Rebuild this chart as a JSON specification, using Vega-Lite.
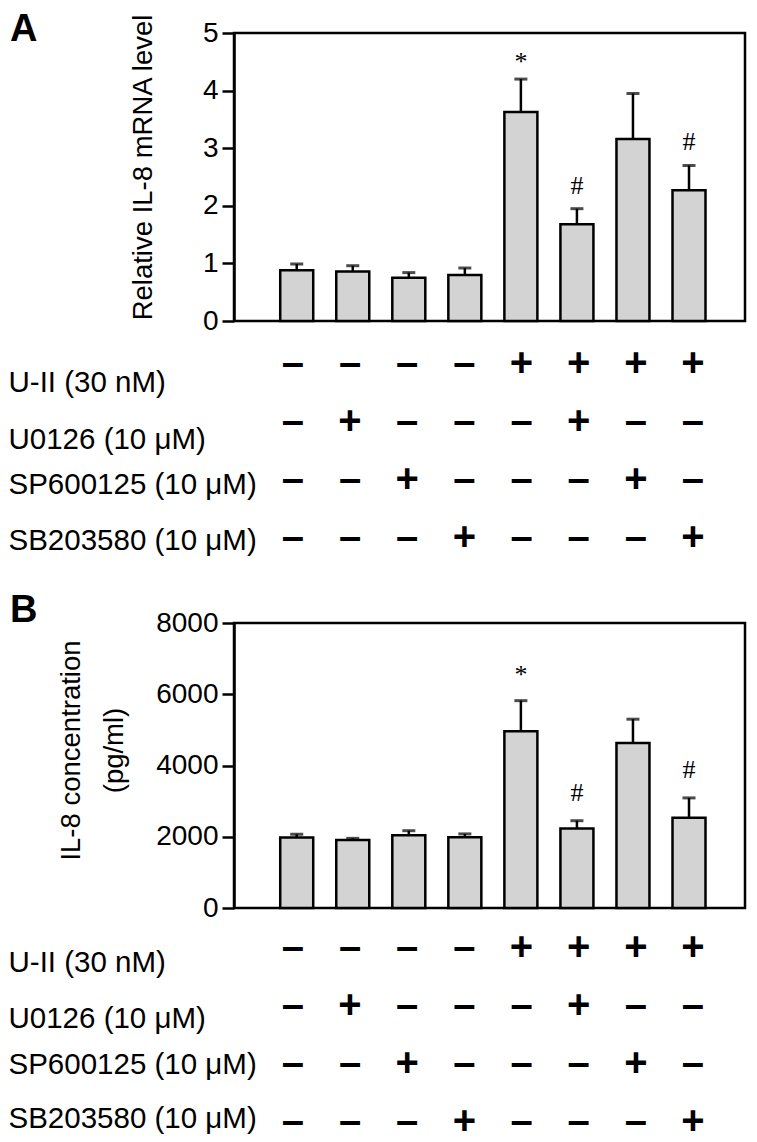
{
  "$schema": "https://vega.github.io/schema/vega-lite/v6.json",
  "background": "white",
  "padding": {"left": 8, "top": 10, "right": 4, "bottom": 0},
  "datasets": {
    "mrna": [
      {"i": 1, "mean": 0.88, "err": 0.99, "sig": ""},
      {"i": 2, "mean": 0.86, "err": 0.96, "sig": ""},
      {"i": 3, "mean": 0.75, "err": 0.84, "sig": ""},
      {"i": 4, "mean": 0.80, "err": 0.92, "sig": ""},
      {"i": 5, "mean": 3.63, "err": 4.20, "sig": "*"},
      {"i": 6, "mean": 1.68, "err": 1.95, "sig": "#"},
      {"i": 7, "mean": 3.16, "err": 3.95, "sig": ""},
      {"i": 8, "mean": 2.27, "err": 2.70, "sig": "#"}
    ],
    "il8": [
      {"i": 1, "mean": 1980, "err": 2070, "sig": ""},
      {"i": 2, "mean": 1910, "err": 1955, "sig": ""},
      {"i": 3, "mean": 2040, "err": 2170, "sig": ""},
      {"i": 4, "mean": 1985, "err": 2080, "sig": ""},
      {"i": 5, "mean": 4960, "err": 5820, "sig": "*"},
      {"i": 6, "mean": 2230, "err": 2450, "sig": "#"},
      {"i": 7, "mean": 4630, "err": 5300, "sig": ""},
      {"i": 8, "mean": 2530, "err": 3090, "sig": "#"}
    ],
    "treat": [
      {"i": 1, "treatment": "U-II (30 nM)", "sign": "–"},
      {"i": 2, "treatment": "U-II (30 nM)", "sign": "–"},
      {"i": 3, "treatment": "U-II (30 nM)", "sign": "–"},
      {"i": 4, "treatment": "U-II (30 nM)", "sign": "–"},
      {"i": 5, "treatment": "U-II (30 nM)", "sign": "+"},
      {"i": 6, "treatment": "U-II (30 nM)", "sign": "+"},
      {"i": 7, "treatment": "U-II (30 nM)", "sign": "+"},
      {"i": 8, "treatment": "U-II (30 nM)", "sign": "+"},
      {"i": 1, "treatment": "U0126 (10 μM)", "sign": "–"},
      {"i": 2, "treatment": "U0126 (10 μM)", "sign": "+"},
      {"i": 3, "treatment": "U0126 (10 μM)", "sign": "–"},
      {"i": 4, "treatment": "U0126 (10 μM)", "sign": "–"},
      {"i": 5, "treatment": "U0126 (10 μM)", "sign": "–"},
      {"i": 6, "treatment": "U0126 (10 μM)", "sign": "+"},
      {"i": 7, "treatment": "U0126 (10 μM)", "sign": "–"},
      {"i": 8, "treatment": "U0126 (10 μM)", "sign": "–"},
      {"i": 1, "treatment": "SP600125 (10 μM)", "sign": "–"},
      {"i": 2, "treatment": "SP600125 (10 μM)", "sign": "–"},
      {"i": 3, "treatment": "SP600125 (10 μM)", "sign": "+"},
      {"i": 4, "treatment": "SP600125 (10 μM)", "sign": "–"},
      {"i": 5, "treatment": "SP600125 (10 μM)", "sign": "–"},
      {"i": 6, "treatment": "SP600125 (10 μM)", "sign": "–"},
      {"i": 7, "treatment": "SP600125 (10 μM)", "sign": "+"},
      {"i": 8, "treatment": "SP600125 (10 μM)", "sign": "–"},
      {"i": 1, "treatment": "SB203580 (10 μM)", "sign": "–"},
      {"i": 2, "treatment": "SB203580 (10 μM)", "sign": "–"},
      {"i": 3, "treatment": "SB203580 (10 μM)", "sign": "–"},
      {"i": 4, "treatment": "SB203580 (10 μM)", "sign": "+"},
      {"i": 5, "treatment": "SB203580 (10 μM)", "sign": "–"},
      {"i": 6, "treatment": "SB203580 (10 μM)", "sign": "–"},
      {"i": 7, "treatment": "SB203580 (10 μM)", "sign": "–"},
      {"i": 8, "treatment": "SB203580 (10 μM)", "sign": "+"}
    ]
  },
  "spacing": 10,
  "bounds": "flush",
  "vconcat": [
    {
      "width": 511,
      "height": 288,
      "view": {"stroke": "black", "strokeWidth": 2.5},
      "title": {"text": "A", "anchor": "start", "frame": "group", "font": "Liberation Sans", "fontSize": 38, "fontWeight": "bold", "color": "black", "dx": -224, "offset": 0, "baseline": "alphabetic", "dy": 66},
      "data": {"name": "mrna"},
      "encoding": {
        "x": {"field": "i", "type": "quantitative", "scale": {"domain": [-0.03, 8.91], "nice": false, "zero": false}, "axis": null}
      },
      "layer": [
        {
          "mark": {"type": "bar", "width": 33, "fill": "#d3d3d3", "stroke": "black", "strokeWidth": 2.5},
          "encoding": {
            "y": {"field": "mean", "type": "quantitative", "title": "Relative IL-8 mRNA level",
                  "scale": {"domain": [0, 5], "nice": false, "zero": true},
                  "axis": {"values": [0, 1, 2, 3, 4, 5], "format": "d", "titleX": -91, "titleY": 134, "titleBaseline": "middle", "titleAlign": "center", "titleAngle": -90, "titleFontSize": 27.5}}
          }
        },
        {
          "mark": {"type": "rule", "strokeWidth": 2.5, "color": "black"},
          "encoding": {"y": {"field": "mean", "type": "quantitative", "title": "Relative IL-8 mRNA level"}, "y2": {"field": "err"}}
        },
        {
          "mark": {"type": "tick", "orient": "horizontal", "size": 13, "thickness": 3, "color": "black"},
          "encoding": {"y": {"field": "err", "type": "quantitative", "title": "Relative IL-8 mRNA level"}}
        },
        {
          "transform": [{"filter": "datum.sig == '*'"}],
          "mark": {"type": "text", "font": "Liberation Serif", "fontSize": 26, "baseline": "alphabetic", "dy": -9, "color": "black"},
          "encoding": {"y": {"field": "err", "type": "quantitative", "title": "Relative IL-8 mRNA level"}, "text": {"field": "sig"}}
        },
        {
          "transform": [{"filter": "datum.sig == '#'"}],
          "mark": {"type": "text", "font": "Liberation Serif", "fontSize": 26, "baseline": "alphabetic", "dy": -15, "color": "black"},
          "encoding": {"y": {"field": "err", "type": "quantitative", "title": "Relative IL-8 mRNA level"}, "text": {"field": "sig"}}
        }
      ]
    },
    {
      "width": 511,
      "height": 282,
      "data": {"name": "treat"},
      "mark": {"type": "text", "font": "Liberation Sans", "fontWeight": "bold", "fontSize": 40, "baseline": "middle", "align": "center", "color": "black"},
      "encoding": {
        "x": {"field": "i", "type": "quantitative", "scale": {"domain": [-0.03, 8.91], "nice": false, "zero": false}, "axis": null},
        "y": {"field": "treatment", "type": "nominal",
              "sort": ["U-II (30 nM)", "U0126 (10 μM)", "SP600125 (10 μM)", "SB203580 (10 μM)"],
              "scale": {"type": "point", "padding": 0.9185, "align": 0.3035},
              "axis": {"orient": "left", "title": null, "domain": false, "ticks": false, "tickSize": 0, "labelAlign": "left", "labelPadding": 226, "labelFontSize": 29.5, "labelLimit": 0, "labelOverlap": false, "labelBaseline": "middle",
                       "labelOffset": {"condition": [{"test": "datum.value === 'U-II (30 nM)'", "value": 19}, {"test": "datum.value === 'U0126 (10 μM)'", "value": 18}, {"test": "datum.value === 'SP600125 (10 μM)'", "value": 4}], "value": 2}}},
        "text": {"field": "sign"}
      }
    },
    {
      "width": 511,
      "height": 285,
      "view": {"stroke": "black", "strokeWidth": 2.5},
      "title": {"text": "B", "anchor": "start", "frame": "group", "font": "Liberation Sans", "fontSize": 38, "fontWeight": "bold", "color": "black", "dx": -224, "offset": 0, "baseline": "alphabetic", "dy": 51},
      "data": {"name": "il8"},
      "encoding": {
        "x": {"field": "i", "type": "quantitative", "scale": {"domain": [-0.03, 8.91], "nice": false, "zero": false}, "axis": null}
      },
      "layer": [
        {
          "mark": {"type": "bar", "width": 33, "fill": "#d3d3d3", "stroke": "black", "strokeWidth": 2.5},
          "encoding": {
            "y": {"field": "mean", "type": "quantitative", "title": ["IL-8 concentration", "(pg/ml)"],
                  "scale": {"domain": [0, 8000], "nice": false, "zero": true},
                  "axis": {"values": [0, 2000, 4000, 6000, 8000], "format": "d", "titleX": -163, "titleY": 127, "titleBaseline": "middle", "titleAlign": "center", "titleAngle": -90, "titleLineHeight": 43, "titleFontSize": 27.5}}
          }
        },
        {
          "mark": {"type": "rule", "strokeWidth": 2.5, "color": "black"},
          "encoding": {"y": {"field": "mean", "type": "quantitative", "title": ["IL-8 concentration", "(pg/ml)"]}, "y2": {"field": "err"}}
        },
        {
          "mark": {"type": "tick", "orient": "horizontal", "size": 13, "thickness": 3, "color": "black"},
          "encoding": {"y": {"field": "err", "type": "quantitative", "title": ["IL-8 concentration", "(pg/ml)"]}}
        },
        {
          "transform": [{"filter": "datum.sig == '*'"}],
          "mark": {"type": "text", "font": "Liberation Serif", "fontSize": 26, "baseline": "alphabetic", "dy": -18, "color": "black"},
          "encoding": {"y": {"field": "err", "type": "quantitative", "title": ["IL-8 concentration", "(pg/ml)"]}, "text": {"field": "sig"}}
        },
        {
          "transform": [{"filter": "datum.sig == '#'"}],
          "mark": {"type": "text", "font": "Liberation Serif", "fontSize": 26, "baseline": "alphabetic", "dy": -20, "color": "black"},
          "encoding": {"y": {"field": "err", "type": "quantitative", "title": ["IL-8 concentration", "(pg/ml)"]}, "text": {"field": "sig"}}
        }
      ]
    },
    {
      "width": 511,
      "height": 214,
      "data": {"name": "treat"},
      "mark": {"type": "text", "font": "Liberation Sans", "fontWeight": "bold", "fontSize": 40, "baseline": "middle", "align": "center", "color": "black"},
      "encoding": {
        "x": {"field": "i", "type": "quantitative", "scale": {"domain": [-0.03, 8.91], "nice": false, "zero": false}, "axis": null},
        "y": {"field": "treatment", "type": "nominal",
              "sort": ["U-II (30 nM)", "U0126 (10 μM)", "SP600125 (10 μM)", "SB203580 (10 μM)"],
              "scale": {"type": "point", "padding": 0.345, "align": 0.75},
              "axis": {"orient": "left", "title": null, "domain": false, "ticks": false, "tickSize": 0, "labelAlign": "left", "labelPadding": 226, "labelFontSize": 29.5, "labelLimit": 0, "labelOverlap": false, "labelBaseline": "middle",
                       "labelOffset": {"condition": [{"test": "datum.value === 'U-II (30 nM)'", "value": 14}, {"test": "datum.value === 'U0126 (10 μM)'", "value": 12}, {"test": "datum.value === 'SP600125 (10 μM)'", "value": 0}], "value": -3}}},
        "text": {"field": "sign"}
      }
    }
  ],
  "config": {
    "view": {"stroke": null},
    "font": "Liberation Sans",
    "axis": {
      "labelFont": "Liberation Sans", "labelFontSize": 28, "labelColor": "black",
      "tickColor": "black", "tickWidth": 2.5, "tickSize": 12,
      "domainColor": "black", "domainWidth": 2.5, "labelPadding": 4,
      "titleFont": "Liberation Sans", "titleFontSize": 27, "titleFontWeight": "normal", "titleColor": "black",
      "grid": false
    }
  }
}
